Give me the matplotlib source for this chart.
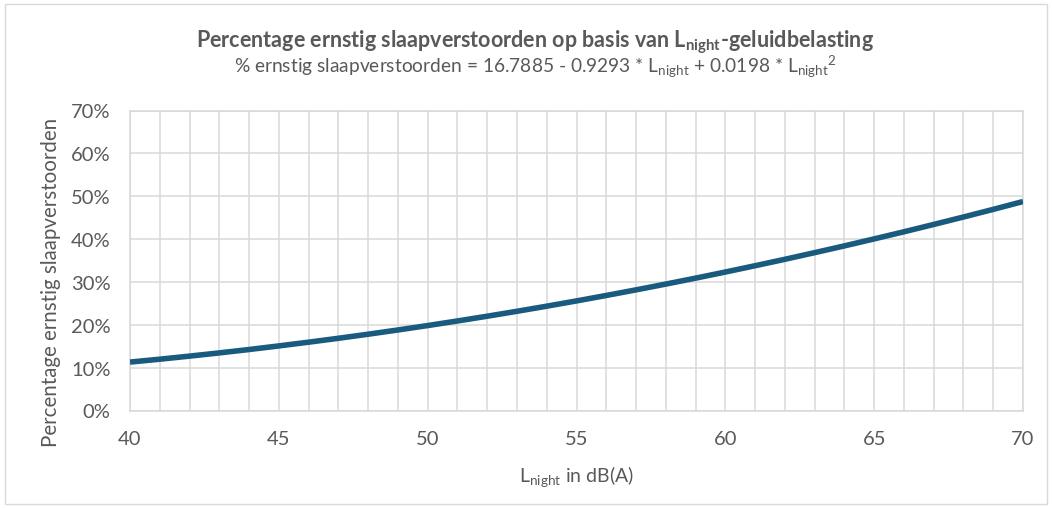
import matplotlib
matplotlib.use("Agg")
import matplotlib.pyplot as plt
from matplotlib.patches import Rectangle
from matplotlib.ticker import MultipleLocator, FuncFormatter

# Data (L_night in dB(A) -> % ernstig slaapverstoorden)
l_night = [40, 41, 42, 43, 44, 45, 46, 47, 48, 49, 50, 51, 52, 53, 54, 55,
           56, 57, 58, 59, 60, 61, 62, 63, 64, 65, 66, 67, 68, 69, 70]
pct_hsd = [11.30, 11.97, 12.69, 13.44, 14.23, 15.07, 15.94, 16.85, 17.80,
           18.79, 19.82, 20.89, 22.00, 23.15, 24.34, 25.57, 26.84, 28.15,
           29.50, 30.88, 32.31, 33.78, 35.28, 36.83, 38.41, 40.04, 41.70,
           43.41, 45.15, 46.93, 48.76]
x_ticks = [40, 45, 50, 55, 60, 65, 70]
y_ticks = [0, 10, 20, 30, 40, 50, 60, 70]

title = r"Percentage ernstig slaapverstoorden op basis van L$_{\mathbf{night}}$-geluidbelasting"
subtitle = (r"% ernstig slaapverstoorden = 16.7885 - 0.9293 * L$_{\mathrm{night}}$"
            r" + 0.0198 * L$_{\mathrm{night}}$$^{2}$")
ylabel = "Percentage ernstig slaapverstoorden"
xlabel = r"L$_{\mathrm{night}}$ in dB(A)"

FONT = "Lato"
plt.rcParams["font.family"] = [FONT, "DejaVu Sans"]
plt.rcParams["mathtext.fontset"] = "custom"
plt.rcParams["mathtext.rm"] = FONT
plt.rcParams["mathtext.it"] = FONT + ":italic"
plt.rcParams["mathtext.bf"] = FONT + ":bold"

TXT = "#595959"
GRID = "#d9d9d9"
LINE = "#195b7e"

fig = plt.figure(figsize=(10.52, 5.10), dpi=100)
fig.patch.set_facecolor("white")
fig.patches.append(Rectangle((5 / 1052, 5 / 510), 1042 / 1052, 500 / 510,
                             transform=fig.transFigure, fill=False,
                             edgecolor=GRID, linewidth=1.0))

ax = fig.add_axes([130 / 1052, 1 - 411.5 / 510, (1023 - 130) / 1052, (411.5 - 111.5) / 510])
ax.plot(l_night, pct_hsd, color=LINE, linewidth=4.0, solid_capstyle="butt", zorder=3)

ax.set_xlim(40, 70)
ax.set_ylim(0, 70)
ax.set_xticks(x_ticks)
ax.xaxis.set_minor_locator(MultipleLocator(1))
ax.set_yticks(y_ticks)
ax.yaxis.set_major_formatter(FuncFormatter(lambda v, p: f"{int(v)}%"))
ax.grid(True, which="both", axis="x", color=GRID, linewidth=1.1)
ax.grid(True, which="major", axis="y", color=GRID, linewidth=1.1)
ax.set_axisbelow(True)
for s in ax.spines.values():
    s.set_color(GRID)
    s.set_linewidth(1.1)
ax.tick_params(which="both", length=0, labelsize=14.5, colors=TXT)
ax.tick_params(axis="y", pad=14)
ax.tick_params(axis="x", pad=14)

fig.text(51 / 1052, 1 - 282 / 510, ylabel, fontsize=14.8, color=TXT,
         rotation=90, ha="center", va="center")
fig.text(576.5 / 1052, 1 - 477 / 510, xlabel, fontsize=14, color=TXT,
         ha="center", va="center")

fig.text(535 / 1052, 1 - 42 / 510, title, fontsize=15.5, fontweight="bold",
         color=TXT, ha="center", va="center")
fig.text(535 / 1052, 1 - 67 / 510, subtitle, fontsize=13.8, color=TXT,
         ha="center", va="center")

fig.savefig("out.png", dpi=100, facecolor="white")
